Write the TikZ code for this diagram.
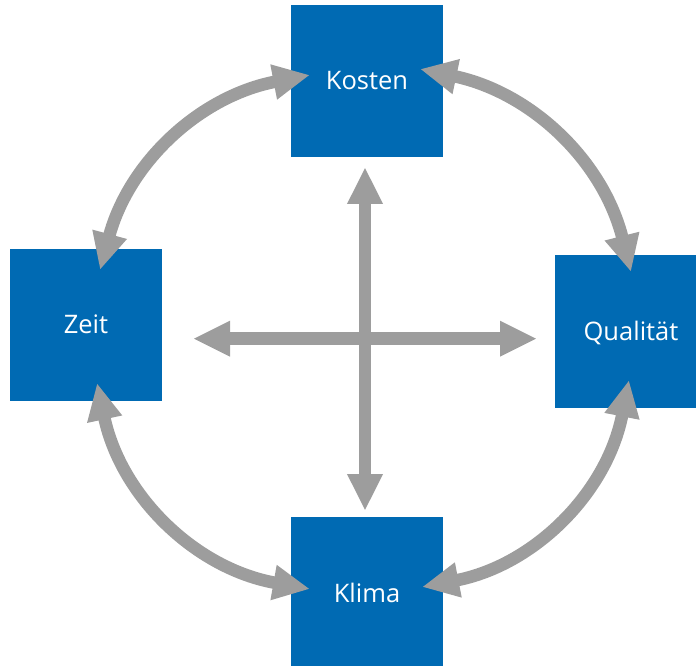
\documentclass[tikz,border=0pt]{standalone}
\usepackage{fontspec}
\setmainfont{Open Sans}
\usetikzlibrary{
  arrows.meta,
  positioning,
}
\definecolor{boxblue}{RGB}{0,106,179}
\definecolor{arrgray}{RGB}{157,157,157}
\tikzset{
  >={Triangle[length=37pt,width=33pt]},
}

\begin{document}
\begin{tikzpicture}[
      x=1pt, y=1pt,
      box/.style={fill=boxblue, text=white, minimum size=152pt, inner sep=0pt,
        font=\fontsize{25.5}{30}\selectfont, text height=18pt, text depth=0pt},
      arr/.style={<->, color=arrgray, line width=12.5pt},
    ]
      \useasboundingbox (0,0) rectangle (696,665);
      \node [box] (kosten) at (367,584) {Kosten};
      \node [box] (zeit) at (86,340) {Zeit};
      \node [box] (qualitaet) at (631,333.5) {Qualität};
      \node [box] (klima) at (367,72) {Klima};
      \coordinate (left) at (193,326.3);
      \coordinate (right) at (537,326.3);
      \coordinate (top) at (365,498);
      \coordinate (bottom) at (365,154);
      \coordinate (kosten-l) at ([shift={(-57,6)}]kosten.center);
      \coordinate (kosten-r) at ([shift={(53,12)}]kosten.center);
      \coordinate (zeit-t) at ([shift={(14,55)}]zeit.center);
      \coordinate (zeit-b) at ([shift={(11,-58)}]zeit.center);
      \coordinate (qualitaet-t) at ([shift={(0,59.5)}]qualitaet.center);
      \coordinate (qualitaet-b) at ([shift={(-2,-48.5)}]qualitaet.center);
      \coordinate (klima-l) at ([shift={(-57,4)}]klima.center);
      \coordinate (klima-r) at ([shift={(55,6)}]klima.center);
      \path [arr] (left) edge (right)
                  (bottom) edge (top)
                  (kosten-l) edge [bend right=32] (zeit-t)
                  (zeit-b) edge [bend right=34] (klima-l)
                  (klima-r) edge [bend right=34] (qualitaet-b)
                  (qualitaet-t) edge [bend right=32] (kosten-r);
    \end{tikzpicture}
\end{document}
